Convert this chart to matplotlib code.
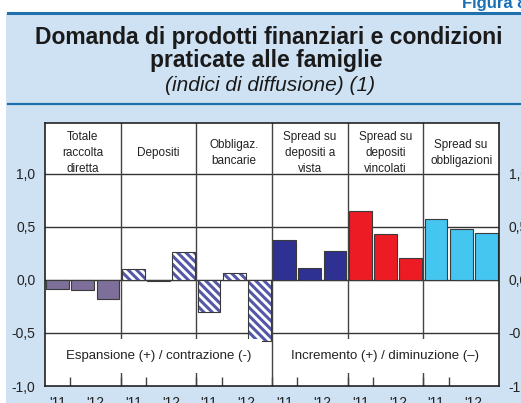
import numpy as np
import matplotlib.pyplot as plt
import matplotlib.patches as mpatches

# dati (indici di diffusione)
categorie = ["Totale\nraccolta\ndiretta", "Depositi", "Obbligaz.\nbancarie",
             "Spread su\ndepositi a\nvista", "Spread su\ndepositi\nvincolati",
             "Spread su\nobbligazioni"]
totale_raccolta = [-0.085, -0.095, -0.18]
depositi = [0.10, -0.01, 0.265]
obbligazioni = [-0.30, 0.065, -0.575]
spread_vista = [0.38, 0.11, 0.27]
spread_vincolati = [0.65, 0.43, 0.21]
spread_obbligazioni = [0.575, 0.48, 0.44]
anni = ["'11", "'12"]
yticks = [-1.0, -0.5, 0.0, 0.5, 1.0]

serie = [totale_raccolta, depositi, obbligazioni,
         spread_vista, spread_vincolati, spread_obbligazioni]
colori = ['#7d6f99', 'white', 'white', '#2e3192', '#ed1c24', '#45c6f0']
tratteggio = [None, '\\\\\\\\', '\\\\\\\\', None, None, None]

BLU_SFONDO = '#cfe2f3'
BLU_LINEA = '#1f70ad'
COL_TRATT = '#5558a8'
W, H = 521, 403

plt.rcParams['hatch.linewidth'] = 2.2
plt.rcParams['font.family'] = ['Liberation Sans', 'DejaVu Sans']

fig = plt.figure(figsize=(W / 100, H / 100), dpi=100, facecolor='white')

# riquadro azzurro e linee blu
fig.patches.append(mpatches.Rectangle((6 / W, 0), 1, 1 - 14 / H, transform=fig.transFigure,
                                      facecolor=BLU_SFONDO, edgecolor='none', zorder=-10))
fig.add_artist(plt.Line2D([8 / W, 1], [1 - 13 / H] * 2, color=BLU_LINEA, lw=2.2))
fig.add_artist(plt.Line2D([8 / W, 1], [1 - 104 / H] * 2, color=BLU_LINEA, lw=1.6))

fig.text(462 / W, 1 - 8 / H, "Figura 8", color='#1a6fb5', fontsize=12,
         fontweight='bold', va='baseline', ha='left')
fig.text(269 / W, 1 - 44 / H, "Domanda di prodotti finanziari e condizioni",
         fontsize=16.5, fontweight='bold', ha='center', va='baseline', color='#1a1a1a')
fig.text(266 / W, 1 - 67 / H, "praticate alle famiglie",
         fontsize=16.5, fontweight='bold', ha='center', va='baseline', color='#1a1a1a')
fig.text(270 / W, 1 - 91 / H, "(indici di diffusione) (1)",
         fontsize=15, fontstyle='italic', ha='center', va='baseline', color='#1a1a1a')

ax = fig.add_axes([45 / W, 17 / H, 454 / W, 263 / H])
ax.set_facecolor('white')

n = len(serie)
for g in range(n):
    x = np.arange(3) + 3 * g
    if tratteggio[g]:
        # tratteggio colorato, bordo grigio disegnato a parte
        ax.bar(x, serie[g], width=0.9, color='white', edgecolor=COL_TRATT,
               linewidth=0, hatch=tratteggio[g], zorder=3)
        ax.bar(x, serie[g], width=0.9, fill=False, edgecolor='#3a3a3a',
               linewidth=0.8, zorder=4)
    else:
        ax.bar(x, serie[g], width=0.9, color=colori[g], edgecolor='#3a3a3a',
               linewidth=0.8, zorder=3)

ax.set_xlim(-0.5, 3 * n - 0.5)
ax.set_ylim(-1.0, 1.48)

# griglia orizzontale e separatori
for yv in [-0.5, 0.0, 0.5, 1.0]:
    ax.axhline(yv, color='#333333', lw=1.0, zorder=2)
for g in range(1, n):
    ax.axvline(3 * g - 0.5, color='#444444', lw=1.0, zorder=2)

for g in range(n):
    ax.text(3 * g + 1, 1.198, categorie[g], ha='center', va='center',
            fontsize=8.5, linespacing=1.45, color='#222222', zorder=5)

ax.text(4.0, -0.72, "Espansione (+) / contrazione (-)", ha='center', va='center',
        fontsize=9.5, color='#222222', zorder=6,
        bbox=dict(facecolor='white', edgecolor='none', pad=8))
ax.text(13.0, -0.72, "Incremento (+) / diminuzione (\u2013)", ha='center', va='center',
        fontsize=9.5, color='#222222', zorder=6,
        bbox=dict(facecolor='white', edgecolor='none', pad=8))

ax.set_yticks(yticks)
ax.set_yticklabels([f"{v:.1f}".replace('.', ',') for v in yticks])
ax.tick_params(axis='y', length=0, pad=7, labelsize=10, labelright=True,
               labelcolor='#222222')

pos = []
lab = []
for g in range(n):
    pos += [3 * g, 3 * g + 1.5]
    lab += anni
ax.set_xticks(pos)
ax.set_xticklabels(lab)
ax.tick_params(axis='x', which='major', length=0, pad=7, labelsize=10,
               labelcolor='#222222')
ax.set_xticks(np.arange(3 * n - 1) + 0.5, minor=True)
ax.tick_params(axis='x', which='minor', direction='in', length=6.5,
               width=1.0, color='#444444')

for s in ax.spines.values():
    s.set_color('#222222')
    s.set_linewidth(1.2)
    s.set_zorder(7)

fig.savefig('out.png', dpi=100, facecolor=fig.get_facecolor())
